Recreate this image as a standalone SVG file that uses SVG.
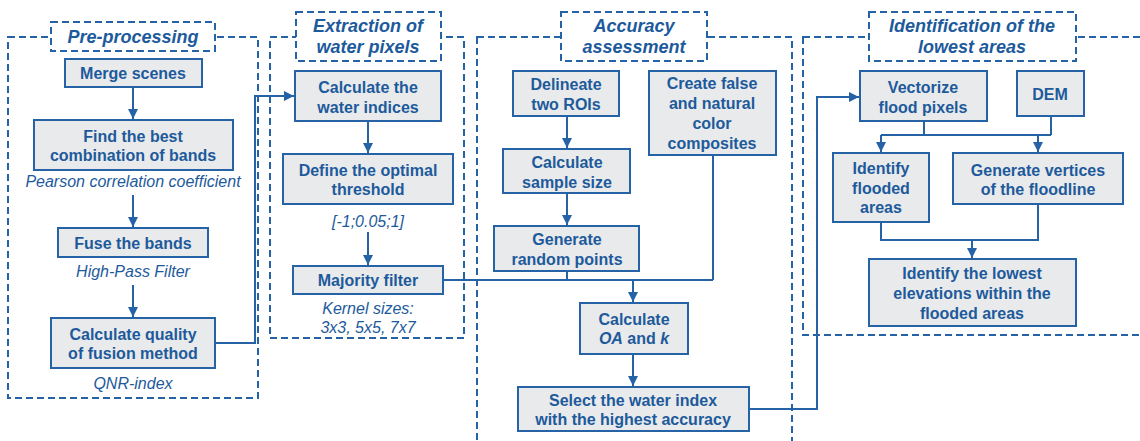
<svg xmlns="http://www.w3.org/2000/svg" width="1140" height="441" viewBox="0 0 1140 441">
  <style>
    .sec { fill: none; stroke: #2563a6; stroke-width: 2; stroke-dasharray: 7 4; }
    .ttl { fill: #ffffff; stroke: #2563a6; stroke-width: 2; stroke-dasharray: 7 4; }
    .box { fill: #e9eaeb; stroke: #2563a6; stroke-width: 2; }
    .t { font-family: "Liberation Sans", Arial, sans-serif; font-size: 16px; font-weight: bold; fill: #1d5a9c; text-anchor: middle; }
    .h { font-family: "Liberation Sans", Arial, sans-serif; font-size: 18px; font-weight: bold; font-style: italic; fill: #1d5a9c; text-anchor: middle; }
    .n { font-family: "Liberation Sans", Arial, sans-serif; font-size: 16px; font-style: italic; fill: #1d5a9c; text-anchor: middle; }
    .c { fill: none; stroke: #2563a6; stroke-width: 2; }
    .ca { fill: none; stroke: #2563a6; stroke-width: 2; marker-end: url(#arr); }
  </style>
  <defs>
    <marker id="arr" viewBox="0 0 10 10" refX="10" refY="5" markerWidth="5" markerHeight="5" orient="auto" markerUnits="strokeWidth">
      <path d="M0,0 L10,5 L0,10 z" fill="#2563a6"/>
    </marker>
  </defs>

  <!-- section frames -->
  <g id="sections">
    <rect class="sec" x="8" y="37" width="250" height="361"/>
    <rect class="sec" x="270" y="37" width="194" height="301"/>
    <rect class="sec" x="477" y="37" width="315" height="420"/>
    <rect class="sec" x="803" y="37" width="360" height="298"/>
  </g>

  <!-- connectors -->
  <g id="connectors">
    <path class="ca" d="M133,87 V119"/>
    <path class="ca" d="M133,195 V227"/>
    <path class="ca" d="M133,285 V317"/>
    <path class="ca" d="M215,343 H255 V96 H294"/>
    <path class="ca" d="M368,121 V153"/>
    <path class="ca" d="M368,232 V265"/>
    <path class="c" d="M443,280 H713"/>
    <path class="c" d="M567,271 V280"/>
    <path class="c" d="M713,155 V280"/>
    <path class="ca" d="M633,280 V302"/>
    <path class="ca" d="M567,116 V148"/>
    <path class="ca" d="M567,193 V225"/>
    <path class="ca" d="M633,354 V386"/>
    <path class="ca" d="M749,409 H817 V97 H859"/>
    <path class="c" d="M924,121 V135"/>
    <path class="c" d="M1051,116 V135"/>
    <path class="c" d="M881,135 H1051"/>
    <path class="ca" d="M881,135 V152"/>
    <path class="ca" d="M1038,135 V152"/>
    <path class="c" d="M881,222 V240 H1038 V204"/>
    <path class="ca" d="M972,240 V258"/>
  </g>

  <!-- section titles -->
  <g id="title-preprocessing">
    <rect class="ttl" x="51" y="22" width="164" height="29"/>
    <text class="h" x="133" y="43">Pre-processing</text>
  </g>
  <g id="title-extraction">
    <rect class="ttl" x="296" y="12" width="145" height="49"/>
    <text class="h" x="368" y="32">Extraction of</text>
    <text class="h" x="368" y="53">water pixels</text>
  </g>
  <g id="title-accuracy">
    <rect class="ttl" x="561" y="12" width="146" height="49"/>
    <text class="h" x="634" y="32">Accuracy</text>
    <text class="h" x="634" y="53">assessment</text>
  </g>
  <g id="title-lowest">
    <rect class="ttl" x="869" y="12" width="207" height="49"/>
    <text class="h" x="972" y="32">Identification of the</text>
    <text class="h" x="972" y="53">lowest areas</text>
  </g>

  <!-- pre-processing -->
  <g id="merge-scenes">
    <rect class="box" x="65" y="59" width="137" height="28"/>
    <text class="t" x="133" y="79">Merge scenes</text>
  </g>
  <g id="best-bands">
    <rect class="box" x="34" y="120" width="199" height="50"/>
    <text class="t" x="133" y="142">Find the best</text>
    <text class="t" x="133" y="161">combination of bands</text>
    <text class="n" x="133" y="187">Pearson correlation coefficient</text>
  </g>
  <g id="fuse-bands">
    <rect class="box" x="58" y="228" width="150" height="29"/>
    <text class="t" x="133" y="249">Fuse the bands</text>
    <text class="n" x="133" y="277">High-Pass Filter</text>
  </g>
  <g id="fusion-quality">
    <rect class="box" x="51" y="318" width="164" height="50"/>
    <text class="t" x="133" y="340">Calculate quality</text>
    <text class="t" x="133" y="359">of fusion method</text>
    <text class="n" x="133" y="389">QNR-index</text>
  </g>

  <!-- extraction of water pixels -->
  <g id="water-indices">
    <rect class="box" x="295" y="71" width="146" height="50"/>
    <text class="t" x="368" y="93">Calculate the</text>
    <text class="t" x="368" y="113">water indices</text>
  </g>
  <g id="optimal-threshold">
    <rect class="box" x="283" y="154" width="170" height="50"/>
    <text class="t" x="368" y="176">Define the optimal</text>
    <text class="t" x="368" y="195">threshold</text>
    <text class="n" x="368" y="227">[-1;0.05;1]</text>
  </g>
  <g id="majority-filter">
    <rect class="box" x="293" y="266" width="150" height="28"/>
    <text class="t" x="368" y="286">Majority filter</text>
    <text class="n" x="368" y="314">Kernel sizes:</text>
    <text class="n" x="368" y="333">3x3, 5x5, 7x7</text>
  </g>

  <!-- accuracy assessment -->
  <g id="delineate-rois">
    <rect class="box" x="513" y="71" width="106" height="45"/>
    <text class="t" x="566" y="90">Delineate</text>
    <text class="t" x="566" y="110">two ROIs</text>
  </g>
  <g id="sample-size">
    <rect class="box" x="503" y="149" width="127" height="44"/>
    <text class="t" x="567" y="168">Calculate</text>
    <text class="t" x="567" y="188">sample size</text>
  </g>
  <g id="random-points">
    <rect class="box" x="494" y="226" width="145" height="45"/>
    <text class="t" x="567" y="245">Generate</text>
    <text class="t" x="567" y="265">random points</text>
  </g>
  <g id="color-composites">
    <rect class="box" x="649" y="71" width="127" height="84"/>
    <text class="t" x="712" y="89">Create false</text>
    <text class="t" x="712" y="109">and natural</text>
    <text class="t" x="712" y="129">color</text>
    <text class="t" x="712" y="149">composites</text>
  </g>
  <g id="oa-kappa">
    <rect class="box" x="580" y="303" width="108" height="51"/>
    <text class="t" x="634" y="325">Calculate</text>
    <text class="t" x="634" y="344"><tspan font-style="italic">OA</tspan> and <tspan font-style="italic">k</tspan></text>
  </g>
  <g id="select-index">
    <rect class="box" x="518" y="387" width="231" height="44"/>
    <text class="t" x="633" y="406">Select the water index</text>
    <text class="t" x="633" y="425">with the highest accuracy</text>
  </g>

  <!-- identification of the lowest areas -->
  <g id="vectorize">
    <rect class="box" x="860" y="71" width="127" height="50"/>
    <text class="t" x="923" y="93">Vectorize</text>
    <text class="t" x="923" y="113">flood pixels</text>
  </g>
  <g id="dem">
    <rect class="box" x="1017" y="71" width="67" height="45"/>
    <text class="t" x="1050" y="100">DEM</text>
  </g>
  <g id="flooded-areas">
    <rect class="box" x="833" y="153" width="96" height="69"/>
    <text class="t" x="881" y="174">Identify</text>
    <text class="t" x="881" y="194">flooded</text>
    <text class="t" x="881" y="213">areas</text>
  </g>
  <g id="floodline-vertices">
    <rect class="box" x="953" y="153" width="170" height="51"/>
    <text class="t" x="1038" y="176">Generate vertices</text>
    <text class="t" x="1038" y="195">of the floodline</text>
  </g>
  <g id="lowest-elevations">
    <rect class="box" x="869" y="259" width="207" height="67"/>
    <text class="t" x="972" y="279">Identify the lowest</text>
    <text class="t" x="972" y="299">elevations within the</text>
    <text class="t" x="972" y="319">flooded areas</text>
  </g>
</svg>
